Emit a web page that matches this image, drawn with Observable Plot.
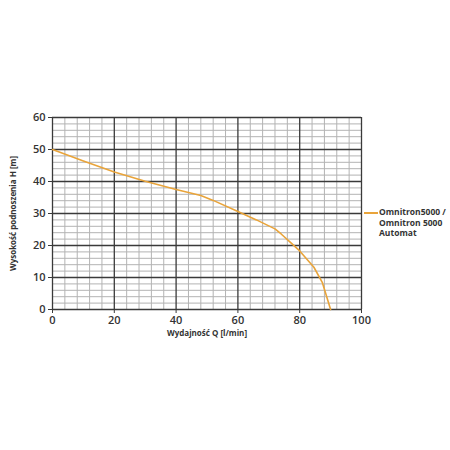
<!DOCTYPE html>
<html>
<head>
<meta charset="utf-8">
<script src="https://cdn.jsdelivr.net/npm/d3@7"></script>
<script src="https://cdn.jsdelivr.net/npm/@observablehq/plot@0.6"></script>
<style>
  html, body { margin: 0; padding: 0; background: #fff; }
  #wrap { position: relative; width: 450px; height: 450px; font-family: "Open Sans", sans-serif; }
  #legend { position: absolute; left: 364px; top: 207px; font-size: 8.5px; font-weight: 700; color: #333; line-height: 10.5px; display: flex; }
  #legend .sw { width: 14px; height: 1.6px; background: #e9a43a; margin-top: 5px; flex: none; }
  #legend .tx { margin-left: 1px; }
</style>
</head>
<body>
<div id="wrap"><div id="legend"><div class="sw"></div><div class="tx">Omnitron5000 /<br>Omnitron 5000<br>Automat</div></div></div>
<script>
const seriesName = "Omnitron5000 / Omnitron 5000 Automat";
const flowQ = [0, 10, 20, 30, 40, 48, 52, 60, 66, 72, 74, 77, 80, 84.6, 87.3, 90];
const headH = [50, 46.4, 43, 40.1, 37.5, 35.6, 34.1, 30.6, 28, 25.2, 23.6, 21, 18.3, 13.2, 8.5, 0];
const xTicks = [0, 20, 40, 60, 80, 100];
const yTicks = [0, 10, 20, 30, 40, 50, 60];
const xLabel = "Wydajność Q [l/min]";
const yLabel = "Wysokość podnoszenia H [m]";

const data = flowQ.map((q, i) => ({q, h: headH[i]}));
const xMinor = d3.range(0, 101, 4).filter(v => v % 20 !== 0);
const yMinor = d3.range(0, 61, 2).filter(v => v % 10 !== 0);

const chart = Plot.plot({
  width: 450,
  height: 450,
  marginLeft: 52,
  marginRight: 89,
  marginTop: 117,
  marginBottom: 141,
  style: {fontFamily: "Open Sans, sans-serif", color: "#333", background: "transparent"},
  x: {domain: [0, 100]},
  y: {domain: [0, 60]},
  marks: [
    Plot.ruleX(xMinor, {stroke: "#b3b3b3", strokeWidth: 1}),
    Plot.ruleY(yMinor, {stroke: "#b3b3b3", strokeWidth: 1}),
    Plot.ruleX(xTicks, {stroke: "#3a3a3a", strokeWidth: 1.3}),
    Plot.ruleY(yTicks, {stroke: "#3a3a3a", strokeWidth: 1.3}),
    Plot.axisX({ticks: xTicks, tickSize: 4, tickPadding: 3, fontSize: 11, fontWeight: 600, label: null, stroke: "#3a3a3a"}),
    Plot.axisY({ticks: yTicks, tickSize: 4, tickPadding: 3, fontSize: 11, fontWeight: 600, label: null, stroke: "#3a3a3a"}),
    Plot.text([xLabel], {frameAnchor: "bottom", dy: 26, textAnchor: "middle", fontSize: 8, fontWeight: 700, fill: "#333"}),
    Plot.text([yLabel], {frameAnchor: "left", dx: -39, rotate: -90, textAnchor: "middle", fontSize: 8, fontWeight: 700, fill: "#333"}),
    Plot.line(data, {x: "q", y: "h", stroke: "#e9a43a", strokeWidth: 1.6, title: () => seriesName})
  ]
});
document.getElementById("wrap").prepend(chart);
chart.style.position = "absolute";
chart.style.left = "0";
chart.style.top = "0";
</script>
</body>
</html>
